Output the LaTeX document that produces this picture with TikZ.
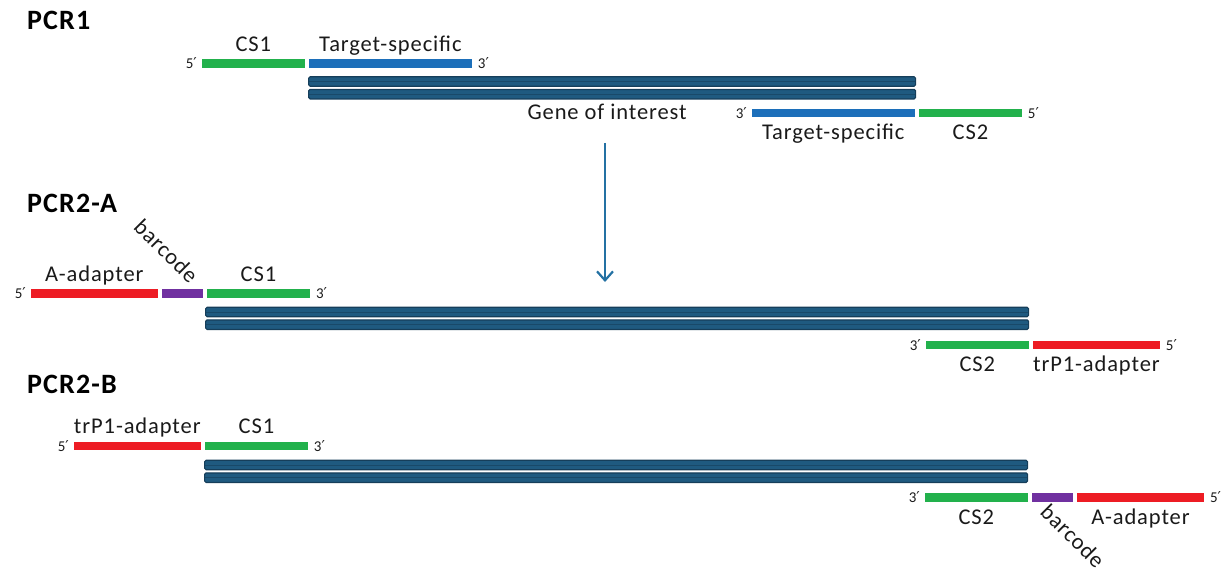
\documentclass[tikz,border=0pt]{standalone}
\usepackage{fontspec}
\setmainfont{Carlito}[LetterSpace=4]
\newfontfamily\primefont{DejaVu Sans}
\newcommand{\pr}{{\primefont\fontsize{15}{18}\selectfont ′}}
\usetikzlibrary{positioning, arrows.meta, calc}
\definecolor{csgreen}{HTML}{22B14C}
\definecolor{tsblue}{HTML}{1C6FBA}
\definecolor{adred}{HTML}{ED1C24}
\definecolor{bcpurple}{HTML}{7030A0}
\definecolor{dnadark}{HTML}{163E5A}
\definecolor{dnamid}{HTML}{1F5A80}
\definecolor{arrowblue}{HTML}{2471A3}
\definecolor{txt}{HTML}{1A1A1A}
\tikzset{
	seg/.style={rectangle, draw=white, line width=0.6pt, inner sep=0pt, minimum height=9.5pt},
	cs/.style={seg, fill=csgreen, minimum width=104pt},
	ts/.style={seg, fill=tsblue, minimum width=164pt},
	adapter/.style={seg, fill=adred, minimum width=128pt},
	bc/.style={seg, fill=bcpurple, minimum width=42pt},
	dna/.style={rectangle, rounded corners=1.5pt, fill=dnamid, draw=dnadark, line width=1.2pt, inner sep=0pt, minimum height=9.5pt,
		path picture={\draw[dnadark!60!dnamid, line width=0.8pt] (path picture bounding box.west) -- (path picture bounding box.east);}},
	lbl/.style={inner sep=0pt, font=\fontsize{22.5}{26}\selectfont, text=txt, text height=14.4pt, text depth=0pt},
	endlbl/.style={inner sep=0pt, font=\fontsize{15}{18}\selectfont, text=txt},
	title/.style={inner sep=0pt, font=\bfseries\fontsize{28}{32}\selectfont, text=black, anchor=base west},
	flow/.style={-{Straight Barb[length=9pt, width=16pt]}, line width=2.2pt, draw=arrowblue}
}
\begin{document}
\begin{tikzpicture}[x=1pt, y=-1pt]
	\useasboundingbox (0,0) rectangle (1231,572);
	% PCR1
	\node[title] (t1) at (27,30) {PCR1};
	\node[cs, anchor=west] (cs1a) at (201,63.5) {};
	\node[ts, right=2.5pt of cs1a] (ts1a) {};
	\node[endlbl, left=4pt of cs1a] (e1a) {5\pr};
	\node[endlbl, right=5pt of ts1a] (e1b) {3\pr};
	\node[lbl, above=7pt of cs1a] (l1a) {CS1};
	\node[lbl, above=7pt of ts1a] (l1b) {Target-specific};
	\node[dna, minimum width=607pt, anchor=west] (g1top) at (308,81.5) {};
	\node[dna, minimum width=607pt, below=2pt of g1top] (g1bot) {};
	\node[lbl, below=5pt of g1bot, xshift=-5pt] (gene) {Gene of interest};
	\node[ts, anchor=west] (ts1b) at (751,113) {};
	\node[cs, right=2.5pt of ts1b] (cs1b) {};
	\node[endlbl, left=4pt of ts1b] (e1c) {3\pr};
	\node[endlbl, right=5pt of cs1b] (e1d) {5\pr};
	\node[lbl, below=7pt of ts1b] (l1c) {Target-specific};
	\node[lbl, below=7pt of cs1b] (l1d) {CS2};
	\coordinate (arrtail) at (605,143);
	\coordinate (arrtip) at (605,282);
	\draw[flow] (arrtail) -- (arrtip);
	% PCR2-A
	\node[title] (t2a) at (27,212) {PCR2-A};
	\node[adapter, anchor=west] (adA) at (30,293.5) {};
	\node[bc, right=2.5pt of adA] (bcA) {};
	\node[cs, right=2.5pt of bcA] (cs1A) {};
	\node[endlbl, left=4pt of adA] (e2a) {5\pr};
	\node[endlbl, right=5pt of cs1A] (e2b) {3\pr};
	\node[lbl, above=7pt of adA] (l2a) {A-adapter};
	\node[lbl, rotate=-45] (l2b) at ([xshift=-16.5pt, yshift=37pt]bcA.north) {barcode};
	\node[lbl, above=7pt of cs1A] (l2c) {CS1};
	\node[dna, minimum width=823pt, anchor=west] (g2top) at (205,312) {};
	\node[dna, minimum width=823pt, below=2pt of g2top] (g2bot) {};
	\node[cs, anchor=west] (cs2A) at (925,345) {};
	\node[adapter, right=2.5pt of cs2A] (adB) {};
	\node[endlbl, left=4pt of cs2A] (e2c) {3\pr};
	\node[endlbl, right=5pt of adB] (e2d) {5\pr};
	\node[lbl, below=7pt of cs2A] (l2d) {CS2};
	\node[lbl, below=7pt of adB] (l2e) {trP1-adapter};
	% PCR2-B
	\node[title] (t2b) at (27,393) {PCR2-B};
	\node[adapter, anchor=west] (adC) at (73,446) {};
	\node[cs, right=2.5pt of adC] (cs1C) {};
	\node[endlbl, left=4pt of adC] (e3a) {5\pr};
	\node[endlbl, right=5pt of cs1C] (e3b) {3\pr};
	\node[lbl, above=7pt of adC] (l3a) {trP1-adapter};
	\node[lbl, above=7pt of cs1C] (l3b) {CS1};
	\node[dna, minimum width=823pt, anchor=west] (g3top) at (204,465) {};
	\node[dna, minimum width=823pt, below=2pt of g3top] (g3bot) {};
	\node[cs, anchor=west] (cs2C) at (924,497.5) {};
	\node[bc, right=2.5pt of cs2C] (bcC) {};
	\node[adapter, right=2.5pt of bcC] (adD) {};
	\node[endlbl, left=4pt of cs2C] (e3c) {3\pr};
	\node[endlbl, right=5pt of adD] (e3d) {5\pr};
	\node[lbl, below=7pt of cs2C] (l3c) {CS2};
	\node[lbl, rotate=-45] (l3d) at ([xshift=20pt, yshift=-34pt]bcC.south) {barcode};
	\node[lbl, below=7pt of adD] (l3e) {A-adapter};
\end{tikzpicture}
\end{document}
